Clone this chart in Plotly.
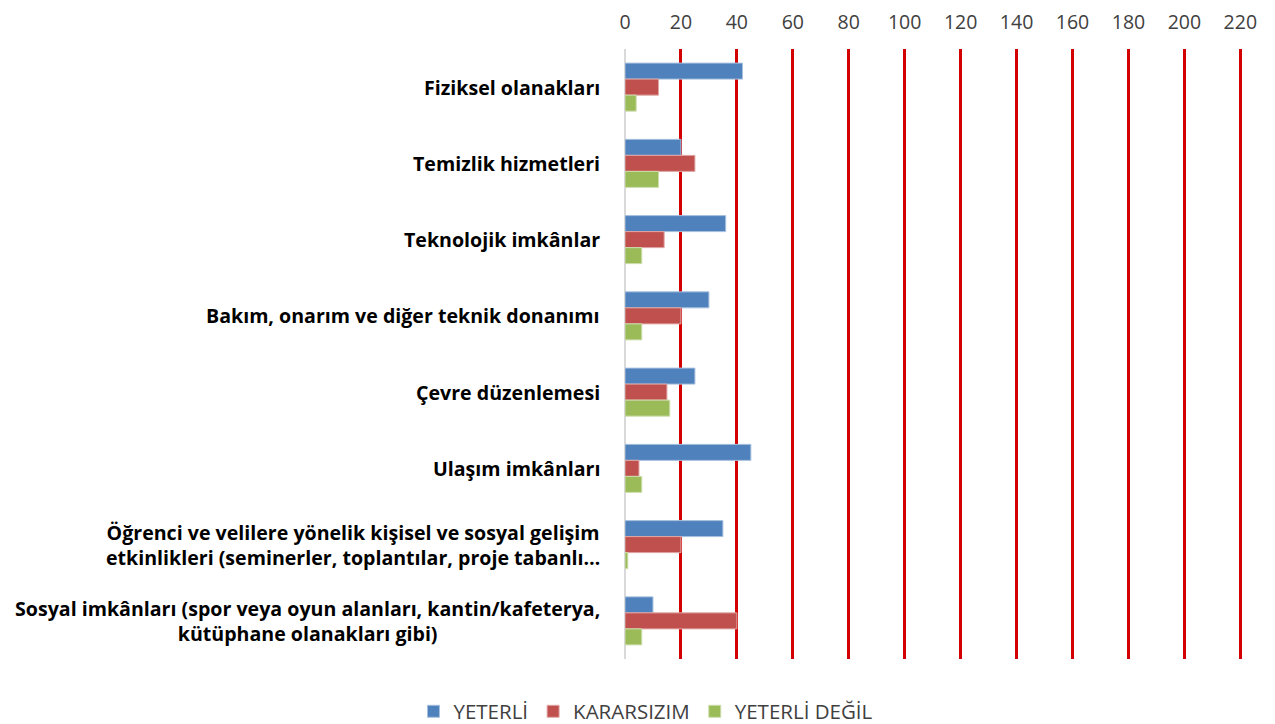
import plotly.graph_objects as go

categories = [
    "Fiziksel olanakları",
    "Temizlik hizmetleri",
    "Teknolojik imkânlar",
    "Bakım, onarım ve diğer teknik donanımı",
    "Çevre düzenlemesi",
    "Ulaşım imkânları",
    "Öğrenci ve velilere yönelik kişisel ve sosyal gelişim<br>etkinlikleri (seminerler, toplantılar, proje tabanlı…",
    "Sosyal imkânları (spor veya oyun alanları, kantin/kafeterya,<br>kütüphane olanakları gibi)",
]
series_names = ["YETERLİ", "KARARSIZIM", "YETERLİ DEĞİL"]
yeterli = [42, 20, 36, 30, 25, 45, 35, 10]
kararsizim = [12, 25, 14, 20, 15, 5, 20, 40]
yeterli_degil = [4, 12, 6, 6, 16, 6, 1, 6]
tick_vals = [0, 20, 40, 60, 80, 100, 120, 140, 160, 180, 200, 220]

colors = ["#4F81BD", "#C0504D", "#9BBB59"]
edge = ["#A7C0DE", "#E0A8A6", "#CDDDAC"]

fig = go.Figure()
for name, vals, c, e in zip(series_names, [yeterli, kararsizim, yeterli_degil], colors, edge):
    fig.add_trace(go.Bar(
        y=categories, x=vals, name=name, orientation="h",
        marker=dict(color=c, line=dict(color=e, width=1)),
    ))

for cat in categories:
    fig.add_annotation(
        x=0, xref="paper", y=cat, yref="y", xanchor="right", yanchor="middle",
        xshift=-23, text=cat, showarrow=False, align="center",
        font=dict(family="Open Sans", size=19.6, color="#000000", weight="bold"),
    )

fig.update_layout(
    width=1275, height=724,
    margin=dict(l=617, r=41, t=41, b=73, autoexpand=False),
    paper_bgcolor="white", plot_bgcolor="white",
    barmode="group", bargap=0.37, bargroupgap=0,
    font=dict(family="Open Sans", color="#404040", size=20),
    legend=dict(orientation="h", x=0.034, xanchor="center", y=-0.086, yanchor="middle",
                font=dict(family="Open Sans", size=20.5, color="#404040"), traceorder="normal"),
    xaxis=dict(side="top", range=[0, 220.6], tickvals=tick_vals, automargin=False,
               showgrid=True, gridcolor="#D20000", gridwidth=2.5,
               zeroline=True, zerolinecolor="#D9D9D9", zerolinewidth=2,
               ticks="", tickfont=dict(family="Open Sans", size=19.5, color="#404040"),
               ticklabelstandoff=15, showline=False),
    yaxis=dict(autorange="reversed", showticklabels=False, showgrid=False, ticks="",
               showline=False, zeroline=False, automargin=False),
)

fig.write_html("out.html")
